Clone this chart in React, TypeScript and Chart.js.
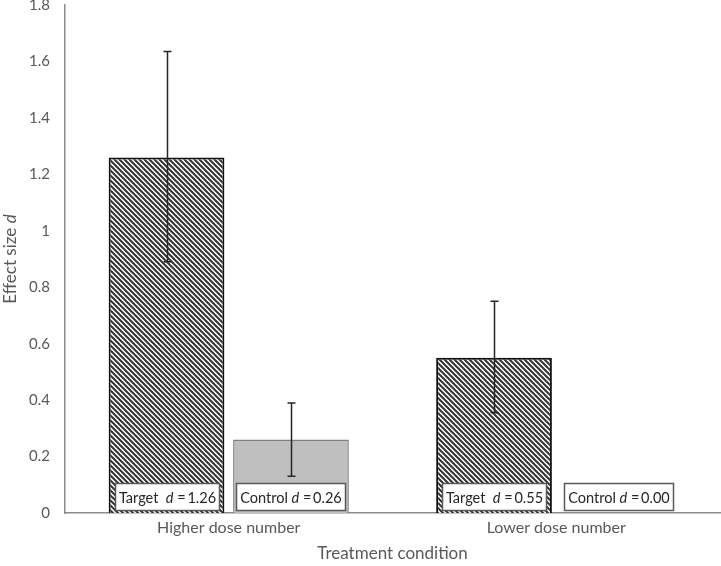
import React, { useEffect, useRef } from 'react';
import { Chart, registerables } from 'chart.js';
Chart.register(...registerables);

const categories = ['Higher dose number', 'Lower dose number'];
const targetValues = [1.26, 0.55];
const controlValues = [0.26, 0.0];
const targetErrLow = [0.89, 0.355];
const targetErrHigh = [1.635, 0.75];
const controlErrLow: (number | null)[] = [0.13, null];
const controlErrHigh: (number | null)[] = [0.39, null];
const targetLabelText = ['1.26', '0.55'];
const controlLabelText = ['0.26', '0.00'];
const yMin = 0;
const yMax = 1.8;
const yStep = 0.2;
const xTitle = 'Treatment condition';
const yTitle = 'Effect size ';
const yTitleItalic = 'd';

const FONT = "Lato, 'Open Sans', 'Liberation Sans', sans-serif";
const TEXT = '#595959';

function makeHatch(): CanvasPattern | string {
  const p = 5;
  const c = document.createElement('canvas');
  c.width = p;
  c.height = p;
  const g = c.getContext('2d');
  if (!g) return '#555';
  g.fillStyle = '#ffffff';
  g.fillRect(0, 0, p, p);
  g.strokeStyle = '#333333';
  g.lineWidth = 2;
  for (const k of [-p, 0, p]) {
    g.beginPath();
    g.moveTo(k - 1, -1);
    g.lineTo(k + p + 1, p + 1);
    g.stroke();
  }
  const pat = g.createPattern(c, 'repeat');
  return pat || '#555';
}

function drawPieces(ctx: CanvasRenderingContext2D, pieces: { t: string; i: boolean }[], size: number, x: number, y: number) {
  let total = 0;
  const widths: number[] = [];
  for (const p of pieces) {
    ctx.font = `${p.i ? 'italic ' : ''}${size}px ${FONT}`;
    const w = ctx.measureText(p.t).width;
    widths.push(w);
    total += w;
  }
  let cx = x - total / 2;
  ctx.textBaseline = 'middle';
  ctx.textAlign = 'left';
  pieces.forEach((p, idx) => {
    ctx.font = `${p.i ? 'italic ' : ''}${size}px ${FONT}`;
    ctx.fillText(p.t, cx, y);
    cx += widths[idx];
  });
  return total;
}

const overlayPlugin = {
  id: 'overlay',
  afterDatasetsDraw(chart: any) {
    const ctx: CanvasRenderingContext2D = chart.ctx;
    const yScale = chart.scales.y;
    const errSets = [
      { lo: targetErrLow, hi: targetErrHigh },
      { lo: controlErrLow, hi: controlErrHigh },
    ];
    ctx.save();
    ctx.strokeStyle = '#262626';
    ctx.lineWidth = 1.5;
    errSets.forEach((es, di) => {
      const meta = chart.getDatasetMeta(di);
      meta.data.forEach((el: any, i: number) => {
        const lo = es.lo[i];
        const hi = es.hi[i];
        if (lo == null || hi == null) return;
        const x = Math.round(el.x) + 0.5;
        const y1 = yScale.getPixelForValue(lo);
        const y2 = yScale.getPixelForValue(hi);
        ctx.beginPath();
        ctx.moveTo(x, y1);
        ctx.lineTo(x, y2);
        ctx.moveTo(x - 4, y1);
        ctx.lineTo(x + 4, y1);
        ctx.moveTo(x - 4, y2);
        ctx.lineTo(x + 4, y2);
        ctx.stroke();
      });
    });
    const names = ['Target  ', 'Control '];
    const texts = [targetLabelText, controlLabelText];
    const baseY = yScale.getPixelForValue(0);
    const size = 14.5;
    [0, 1].forEach((di) => {
      const meta = chart.getDatasetMeta(di);
      meta.data.forEach((el: any, i: number) => {
        const pieces = [
          { t: names[di], i: false },
          { t: 'd', i: true },
          { t: ' =\u2009' + texts[di][i], i: false },
        ];
        let total = 0;
        for (const p of pieces) {
          ctx.font = `${p.i ? 'italic ' : ''}${size}px ${FONT}`;
          total += ctx.measureText(p.t).width;
        }
        const w = Math.round(total + 7);
        const h = 27;
        const cx = el.x;
        const bx = Math.round(cx - w / 2) + 0.5;
        const by = Math.round(baseY - 3 - h) + 0.5;
        ctx.fillStyle = '#ffffff';
        ctx.fillRect(bx, by, w, h);
        ctx.strokeStyle = '#595959';
        ctx.lineWidth = 1.5;
        ctx.strokeRect(bx, by, w, h);
        ctx.fillStyle = '#262626';
        drawPieces(ctx, pieces, size, bx + w / 2, by + h / 2 + 1);
      });
    });
    ctx.restore();
  },
  afterDraw(chart: any) {
    const ctx: CanvasRenderingContext2D = chart.ctx;
    const area = chart.chartArea;
    ctx.save();
    ctx.translate(11, (area.top + area.bottom) / 2);
    ctx.rotate(-Math.PI / 2);
    ctx.fillStyle = TEXT;
    drawPieces(ctx, [{ t: yTitle, i: false }, { t: yTitleItalic, i: true }], 17, 0, 0);
    ctx.restore();
  },
};

export default function App() {
  const ref = useRef<HTMLCanvasElement | null>(null);
  useEffect(() => {
    if (!ref.current) return;
    const hatch = makeHatch();
    const chart = new Chart(ref.current, {
      type: 'bar',
      data: {
        labels: categories,
        datasets: [
          {
            label: 'Target',
            data: targetValues,
            backgroundColor: hatch as any,
            borderColor: '#111111',
            borderWidth: 2,
            categoryPercentage: 0.76,
            barPercentage: 0.93,
          },
          {
            label: 'Control',
            data: controlValues,
            backgroundColor: '#bfbfbf',
            borderColor: '#7f7f7f',
            borderWidth: 1.5,
            categoryPercentage: 0.76,
            barPercentage: 0.93,
          },
        ],
      },
      options: {
        responsive: false,
        animation: false,
        layout: { padding: { left: 0, right: 1, top: 0, bottom: 0 } },
        plugins: {
          legend: { display: false },
          tooltip: { enabled: false },
        },
        scales: {
          x: {
            grid: { display: false, drawTicks: false },
            border: { display: true, color: '#8c8c8c', width: 1.5 },
            ticks: { color: TEXT, font: { family: FONT, size: 16 }, padding: 5 },
            title: {
              display: true,
              text: xTitle,
              color: TEXT,
              font: { family: FONT, size: 17 },
              padding: { top: 4, bottom: 2 },
            },
            afterFit: (s: any) => {
              s.height = 53;
            },
          },
          y: {
            min: yMin,
            max: yMax,
            grid: { display: false, drawTicks: false },
            border: { display: true, color: '#8c8c8c', width: 1.5 },
            ticks: {
              stepSize: yStep,
              color: TEXT,
              font: { family: FONT, size: 15 },
              padding: 15,
              callback: (v: any) => String(Number(Number(v).toFixed(1))),
            },
            afterFit: (s: any) => {
              s.width = 65;
              s.paddingTop = 5;
              s.paddingBottom = 0;
            },
          },
        },
      },
      plugins: [overlayPlugin],
    });
    return () => chart.destroy();
  }, []);
  return (
    <div style={{ position: 'absolute', left: 0, top: 0, width: 721, height: 566, background: '#fff' }}>
      <canvas ref={ref} width={721} height={566} />
    </div>
  );
}
